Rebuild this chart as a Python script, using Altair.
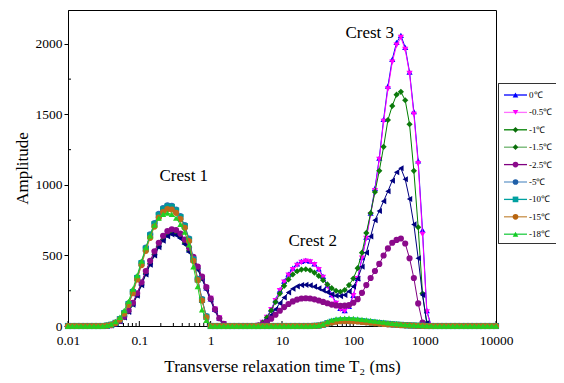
import altair as alt
import numpy as np
import pandas as pd

# ---------------- data ----------------
N = 100
T2 = np.logspace(-2, 4, N)  # NMR inversion grid, ms (0.01 .. 10000)

SERIES = ["0℃", "-0.5℃", "-1℃", "-1.5℃", "-2.5℃", "-5℃", "-10℃", "-15℃", "-18℃"]

C1_START = 9     # grid index where crest-1 readings begin
C23_START = 43   # grid index where crest-2/3 readings begin
BUMP_START = 57  # grid index where the small bump of the frozen samples begins

C1_0 = [2, 6, 17, 37, 66, 108, 162, 228, 305, 383, 455, 520, 578, 626, 656, 668, 662, 638, 596, 540, 478, 412, 343, 270, 193, 118, 57, 15]
C1_05 = [2, 6, 17, 36, 65, 106, 160, 226, 302, 380, 452, 518, 576, 625, 656, 670, 664, 640, 598, 542, 480, 414, 345, 272, 195, 120, 58, 16]
C1_1 = [2, 6, 16, 35, 63, 103, 156, 220, 295, 372, 443, 508, 566, 614, 645, 660, 654, 630, 588, 533, 472, 407, 339, 267, 190, 116, 55, 14]
C1_15 = [2, 5, 15, 33, 60, 100, 152, 215, 290, 365, 435, 500, 558, 605, 637, 650, 644, 620, 580, 525, 465, 400, 332, 258, 180, 105, 48, 12]
C1_25 = [2, 6, 18, 38, 68, 110, 165, 232, 310, 390, 462, 530, 590, 640, 672, 686, 680, 655, 612, 555, 490, 422, 350, 275, 195, 118, 55, 15]
C1_5 = [3, 10, 25, 50, 95, 160, 245, 345, 450, 555, 650, 730, 795, 835, 855, 852, 825, 780, 715, 620, 475, 335, 190, 70]
C1_10 = [3, 9, 22, 48, 90, 155, 240, 340, 445, 548, 642, 722, 786, 826, 846, 844, 818, 772, 708, 612, 470, 330, 185, 65]
C1_15M = [3, 9, 22, 46, 88, 150, 232, 330, 432, 533, 625, 705, 768, 808, 828, 826, 802, 758, 696, 602, 462, 325, 180, 62]
C1_18 = [5, 14, 32, 62, 110, 175, 262, 358, 460, 555, 640, 715, 765, 792, 800, 792, 765, 720, 665, 575, 420, 280, 115, 40]

C23_0 = [0, 6, 27, 63, 118, 185, 255, 318, 368, 410, 440, 458, 465, 460, 440, 405, 352, 288, 222, 165, 125, 110, 140, 218, 338, 485, 630, 800, 975, 1190, 1465, 1700, 1890, 2010, 2060, 1975, 1800, 1520, 1170, 680, 110]
C23_05 = [0, 5, 25, 60, 115, 180, 250, 310, 360, 400, 430, 450, 460, 455, 435, 400, 345, 280, 215, 160, 118, 105, 135, 215, 335, 480, 620, 790, 960, 1180, 1450, 1680, 1870, 1990, 2045, 1960, 1790, 1500, 1150, 650, 100]
C23_1 = [0, 5, 25, 60, 110, 170, 230, 285, 330, 365, 388, 400, 402, 395, 378, 355, 325, 295, 268, 250, 243, 255, 290, 337, 410, 520, 660, 800, 950, 1100, 1270, 1460, 1560, 1640, 1660, 1600, 1430, 1100, 700, 230, 20]
C23_15 = [0, 4, 18, 42, 78, 118, 162, 202, 238, 264, 281, 290, 292, 288, 279, 267, 253, 240, 225, 215, 212, 220, 245, 280, 335, 420, 520, 635, 750, 815, 885, 955, 1030, 1090, 1118, 1040, 900, 720, 480, 220, 20]
C23_25 = [0, 3, 12, 28, 52, 80, 108, 134, 156, 174, 187, 195, 197, 195, 189, 181, 171, 161, 152, 146, 143, 144, 148, 165, 190, 235, 290, 340, 390, 440, 500, 550, 590, 610, 620, 585, 480, 340, 160, 25, 0]

B_5 = [1, 3, 8, 18, 27, 33, 36, 37, 37, 36, 34, 31, 28, 25, 22, 19, 16, 13, 11, 9, 7, 5, 4, 3, 2, 1]
B_10 = [1, 3, 9, 20, 30, 36, 39, 40, 40, 39, 37, 34, 31, 27, 24, 21, 18, 15, 12, 10, 8, 6, 4, 3, 2, 1]
B_15 = [1, 3, 8, 17, 25, 31, 34, 35, 35, 34, 32, 29, 26, 23, 20, 17, 14, 12, 10, 8, 6, 5, 4, 3, 2, 1]
B_18 = [2, 5, 14, 30, 42, 50, 54, 56, 56, 54, 51, 47, 43, 39, 35, 31, 27, 23, 19, 16, 13, 10, 8, 6, 4, 3, 2, 1]

SEGMENTS = {
    "0℃": [(C1_START, C1_0), (C23_START, C23_0)],
    "-0.5℃": [(C1_START, C1_05), (C23_START, C23_05)],
    "-1℃": [(C1_START, C1_1), (C23_START, C23_1)],
    "-1.5℃": [(C1_START, C1_15), (C23_START, C23_15)],
    "-2.5℃": [(C1_START, C1_25), (C23_START, C23_25)],
    "-5℃": [(C1_START, C1_5), (BUMP_START, B_5)],
    "-10℃": [(C1_START, C1_10), (BUMP_START, B_10)],
    "-15℃": [(C1_START, C1_15M), (BUMP_START, B_15)],
    "-18℃": [(C1_START, C1_18), (BUMP_START, B_18)],
}

CREST_TEXT = ["Crest 1", "Crest 2", "Crest 3"]
CREST_T2 = [0.42, 27.0, 170.0]
CREST_AMP = [1060, 600, 2080]

X_TICKS = [0.01, 0.1, 1, 10, 100, 1000, 10000]
Y_TICKS = [0, 500, 1000, 1500, 2000]
Y_MINOR = [250, 750, 1250, 1750]
X_MINOR = [k * 10.0 ** d for d in range(-2, 4) for k in range(2, 10)]

# ---------------- styles ----------------
PLOT_LINE = ["#0000FF", "#FF00FF", "#008000", "#000080", "#800080", "#4A86C5", "#008B8B", "#C07830", "#22CC22"]
PLOT_FILL = ["#0000FF", "#FF00FF", "#0B7A0B", "#000080", "#8B0A8B", "#2F6FB5", "#009999", "#C06A1A", "#22D022"]
PLOT_SHAPE = ["triangle-up", "triangle-down", "diamond", "triangle-left", "circle", "circle", "square", "circle", "triangle-up"]

LEG_LINE = ["#0000FF", "#FF70FF", "#008000", "#6DB36D", "#800080", "#6A9BCB", "#00A0A0", "#C8904A", "#22CC44"]
LEG_FILL = ["#0000FF", "#FF00FF", "#0A6E0A", "#0A6E0A", "#8B0A8B", "#1F5FA8", "#00A0A0", "#B8650F", "#11CC22"]
LEG_SHAPE = ["triangle-up", "triangle-down", "diamond", "diamond", "circle", "circle", "square", "circle", "triangle-up"]

FONT = "Liberation Serif, Times New Roman, serif"
W, H = 428, 316

xs = alt.Scale(type="log", domain=[0.01, 10000], nice=False)
ys = alt.Scale(domain=[0, 2240], nice=False, zero=True)

x_axis = alt.Axis(values=X_TICKS, format="~g", tickSize=0, labelPadding=7, grid=False,
                  labelFlush=False, labelOverlap=False, labelFont=FONT, labelFontSize=13.5,
                  titleFont=FONT, titleFontSize=17, titleFontWeight="normal",
                  title="Transverse relaxation time  T₂ (ms)",
                  titleY=45, titleBaseline="alphabetic")
y_axis = alt.Axis(values=Y_TICKS, format="d", tickSize=4, labelPadding=2, grid=False,
                  labelFont=FONT, labelFontSize=13.5,
                  titleFont=FONT, titleFontSize=17, titleFontWeight="normal",
                  title="Amplitude", titleAngle=-90, titleX=-46, titleY=H / 2,
                  titleAlign="center", titleBaseline="middle")

X = alt.X("T2:Q", scale=xs, axis=x_axis)
Y = alt.Y("amp:Q", scale=ys, axis=y_axis)

layers = []
for k, name in enumerate(SERIES):
    amp = [0.0] * N
    for start, vals in SEGMENTS[name]:
        amp[start:start + len(vals)] = vals
    df = pd.DataFrame({"T2": T2, "amp": amp})
    base = alt.Chart(df)
    layers.append(base.mark_line(strokeWidth=1, color=PLOT_LINE[k]).encode(x=X, y=Y))
    layers.append(base.mark_point(filled=True, size=38, opacity=1, color=PLOT_FILL[k],
                                  shape=PLOT_SHAPE[k]).encode(x=X, y=Y))

# inward x ticks, inward minor y ticks
xt_major = alt.Chart(pd.DataFrame({"T2": X_TICKS})).mark_rule(color="black").encode(
    x=X, y=alt.value(H), y2=alt.value(H - 5))
xt_minor = alt.Chart(pd.DataFrame({"T2": X_MINOR})).mark_rule(color="black").encode(
    x=X, y=alt.value(H), y2=alt.value(H - 3))
yt_minor = alt.Chart(pd.DataFrame({"amp": Y_MINOR})).mark_rule(color="black").encode(
    y=Y, x=alt.value(0), x2=alt.value(3))

crest = alt.Chart(pd.DataFrame({"T2": CREST_T2, "amp": CREST_AMP, "t": CREST_TEXT})).mark_text(
    font=FONT, fontSize=17, color="black").encode(x=X, y=Y, text="t:N")

# legend (drawn as marks)
LEG_TOP, LEG_STEP = 85, 17.4
leg_df = pd.DataFrame({
    "label": SERIES,
    "ly": [LEG_TOP + i * LEG_STEP for i in range(len(SERIES))],
    "lcol": LEG_LINE, "fcol": LEG_FILL, "shp": LEG_SHAPE,
})
LY = alt.Y("ly:Q", scale=None)
leg_box = alt.Chart(leg_df).mark_rect(fill="white", stroke="#333333", strokeWidth=1).encode(
    x=alt.value(430.5), x2=alt.value(510), y=alt.value(73.5), y2=alt.value(233.5))
leg_lines = alt.Chart(leg_df).mark_rule(strokeWidth=1.3).encode(
    x=alt.value(436), x2=alt.value(459), y=LY, color=alt.Color("lcol:N", scale=None))
leg_pts = alt.Chart(leg_df).mark_point(filled=True, size=32, opacity=1).encode(
    x=alt.value(447.5), y=LY, color=alt.Color("fcol:N", scale=None), shape=alt.Shape("shp:N", scale=None))
leg_txt = alt.Chart(leg_df).mark_text(align="left", baseline="middle", font=FONT, fontSize=9,
                                      color="black").encode(x=alt.value(461), y=LY, text="label:N")

chart = alt.layer(
    xt_major, xt_minor, yt_minor, *layers, crest, leg_box, leg_lines, leg_pts, leg_txt
).properties(
    width=W, height=H,
    padding={"left": 60, "top": 2, "right": 60, "bottom": 49},
    autosize=alt.AutoSizeParams(type="none"),
    background="white",
).configure_view(
    stroke="black", strokeWidth=1
).configure_axis(
    labelFont=FONT, titleFont=FONT, labelFontSize=13.5, titleFontSize=17,
    labelColor="black", titleColor="black", titleFontWeight="normal",
    domainColor="black", tickColor="black", domainWidth=1,
)

chart.save("out.html", embed_options={"renderer": "svg", "actions": False})
